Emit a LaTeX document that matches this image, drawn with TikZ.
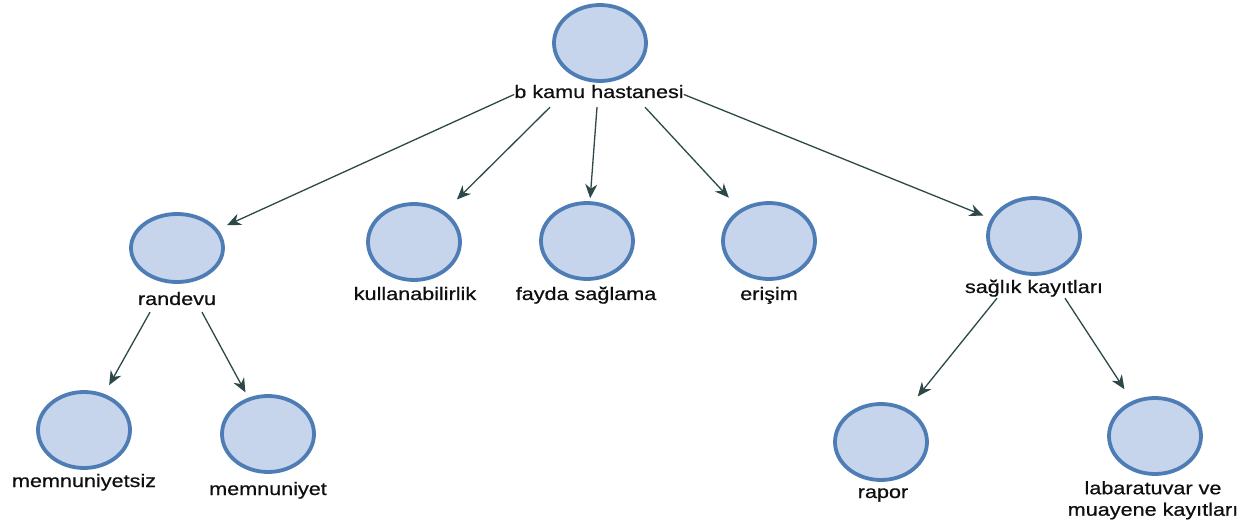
\documentclass[tikz,border=0pt]{standalone}
\usepackage{fontspec}
\setmainfont{Liberation Sans}[FakeStretch=1.2,FakeBold=0.6]
\usetikzlibrary{arrows.meta,shapes.geometric}
\definecolor{bubfill}{RGB}{198,213,235}
\definecolor{bubline}{RGB}{78,125,182}
\definecolor{arrcol}{RGB}{45,72,72}
\definecolor{txtcol}{RGB}{15,15,15}
\tikzset{
  bub/.style={ellipse, draw=bubline, fill=bubfill, line width=3.8pt, minimum width=92pt, minimum height=76pt, inner sep=0pt},
  lbl/.style={inner sep=0pt, anchor=base, text depth=0pt, text=txtcol, font=\fontsize{18}{22}\selectfont},
  lbltwo/.style={inner sep=0pt, anchor=north, align=center, text=txtcol, font=\fontsize{18}{21.5}\selectfont},
  arr/.style={draw=arrcol, line width=1.3pt, -{Stealth[length=14pt,width=12pt,inset=4.5pt]}}
}
\begin{document}
\begin{tikzpicture}[x=1pt,y=-1pt]
\useasboundingbox[fill=white] (0,0) rectangle (1254,521);
% bubbles
\node[bub] (root) at (600,43) {};
\node[bub, minimum height=68pt] (randevu) at (177,248) {};
\node[bub] (kull) at (414,242) {};
\node[bub] (fayda) at (587,241) {};
\node[bub] (erisim) at (769,241) {};
\node[bub] (saglik) at (1034,236) {};
\node[bub] (memsiz) at (84,430) {};
\node[bub] (mem) at (268,434) {};
\node[bub] (rapor) at (881,442) {};
\node[bub] (lab) at (1155,436) {};
% labels
\node[lbl] (rootL) at (599,98) {b kamu hastanesi};
\node[lbl] (randevuL) at (177,305) {randevu};
\node[lbl] (kullL) at (415,300) {kullanabilirlik};
\node[lbl] (faydaL) at (586,300) {fayda sağlama};
\node[lbl] (erisimL) at (769,300) {erişim};
\node[lbl] (saglikL) at (1034,293) {sağlık kayıtları};
\node[lbl] (memsizL) at (84,487) {memnuniyetsiz};
\node[lbl] (memL) at (268,495) {memnuniyet};
\node[lbl] (raporL) at (883,498) {rapor};
\node[lbltwo] (labL) at (1153,481) {labaratuvar ve\\muayene kayıtları};
% connectors
\draw[arr, shorten >=10pt] ([yshift=-3pt]rootL.west) -- (randevu);
\draw[arr, shorten >=17pt] ([xshift=-49pt,yshift=-9pt]rootL.south) -- (kull);
\draw[arr, shorten >=3pt] ([xshift=-2pt,yshift=-9pt]rootL.south) -- (fayda);
\draw[arr, shorten >=16pt] ([xshift=46pt,yshift=-9pt]rootL.south) -- (erisim);
\draw[arr, shorten >=8pt] ([yshift=-3pt]rootL.east) -- (saglik);
\draw[arr, shorten >=10pt] ([xshift=-27pt,yshift=-7pt]randevuL.south) -- (memsiz);
\draw[arr, shorten >=6pt] ([xshift=25pt,yshift=-7pt]randevuL.south) -- (mem);
\draw[arr, shorten >=16pt] ([xshift=-37pt,yshift=-5pt]saglikL.south) -- (rapor);
\draw[arr, shorten >=14pt] ([xshift=31pt,yshift=-5pt]saglikL.south) -- (lab);
\end{tikzpicture}
\end{document}
